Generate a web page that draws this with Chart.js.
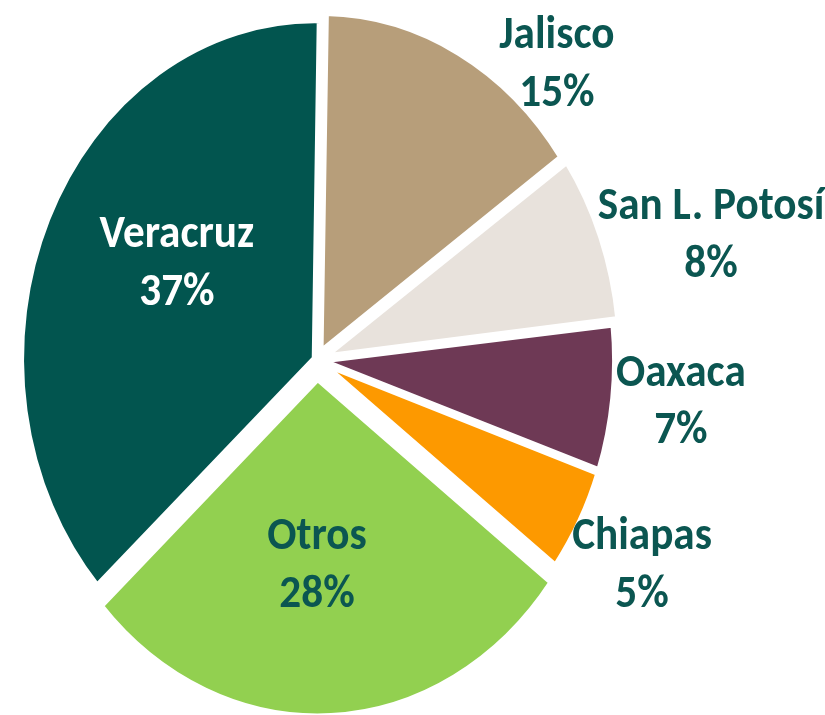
<!DOCTYPE html>
<html>
<head>
<meta charset="utf-8">
<title>Producción por estado</title>
<script src="https://cdn.jsdelivr.net/npm/chart.js@4.4.1/dist/chart.umd.min.js"></script>
<style>
  html, body { margin: 0; padding: 0; background: #ffffff; }
  #wrap { width: 825px; height: 715px; }
</style>
</head>
<body>
<div id="wrap"><canvas id="pieChart" width="825" height="715"></canvas></div>
<script>
// Pie — share by state (clockwise from 12 o'clock)

const states = ['Jalisco', 'San L. Potosí', 'Oaxaca', 'Chiapas', 'Otros', 'Veracruz'];
const shares = [15, 8, 7, 5, 28, 37];
const shareLabels = ['15%', '8%', '7%', '5%', '28%', '37%'];

const sliceColors = ['#b79e7a', '#e8e2dc', '#6e3955', '#fd9900', '#92d050', '#02554f'];
const sliceOffsets = [30, 28, 13, 12, 64, 10];
const labelColors = ['#0b5651', '#0b5651', '#0b5651', '#0b5651', '#0b5651', '#ffffff'];
// label anchor: distance from centre (x radius) and angular nudge (deg)
const labelDist = [1.205, 1.397, 1.247, 1.26, 0.597, 0.562];
const labelNudge = [14.8, 4.9, -1.2, 0.3, 2.6, 7.3];

const STRETCH_Y = 1.154; // the original pie is drawn as a tall ellipse
const TEXT_WIDEN = 1.08;
const FONT = 'bold 40px Carlito, Lato, "Open Sans", sans-serif';

function stretch(ctx, cy) {
  ctx.translate(0, cy);
  ctx.scale(1, STRETCH_Y);
  ctx.translate(0, -cy);
}

function drawText(ctx, text, x, y) {
  ctx.save();
  ctx.translate(x, y);
  ctx.scale(TEXT_WIDEN, 1);
  ctx.fillText(text, 0, 0);
  ctx.restore();
}

const ellipsePlugin = {
  id: 'ellipse',
  beforeDatasetsDraw: function (chart) {
    const arc = chart.getDatasetMeta(0).data[0];
    chart.ctx.save();
    stretch(chart.ctx, arc.y);
  },
  afterDatasetsDraw: function (chart) {
    chart.ctx.restore();
  }
};

const labelPlugin = {
  id: 'sliceLabels',
  afterDraw: function (chart) {
    const ctx = chart.ctx;
    const meta = chart.getDatasetMeta(0);
    ctx.save();
    stretch(ctx, meta.data[0].y);
    ctx.font = FONT;
    ctx.textAlign = 'center';
    ctx.textBaseline = 'alphabetic';
    meta.data.forEach(function (arc, i) {
      const p = arc.getProps(['x', 'y', 'startAngle', 'endAngle', 'outerRadius'], true);
      const a = (p.startAngle + p.endAngle) / 2 + labelNudge[i] * Math.PI / 180;
      const d = p.outerRadius * labelDist[i];
      const x = p.x + Math.cos(a) * d;
      const y = p.y + Math.sin(a) * d;
      ctx.fillStyle = labelColors[i];
      drawText(ctx, states[i], x, y - 11);
      drawText(ctx, shareLabels[i], x, y + 39);
    });
    ctx.restore();
  }
};

new Chart(document.getElementById('pieChart'), {
  type: 'pie',
  data: {
    labels: states,
    datasets: [{
      data: shares,
      backgroundColor: sliceColors,
      borderColor: '#ffffff',
      borderWidth: 6,
      offset: sliceOffsets,
      hoverOffset: 0,
      clip: false
    }]
  },
  options: {
    responsive: false,
    animation: false,
    events: [],
    rotation: 1,
    radius: 293,
    layout: { padding: { left: 0, right: 191, top: 5, bottom: 0 } },
    plugins: {
      legend: { display: false },
      tooltip: { enabled: false }
    }
  },
  plugins: [ellipsePlugin, labelPlugin]
});
</script>
</body>
</html>
